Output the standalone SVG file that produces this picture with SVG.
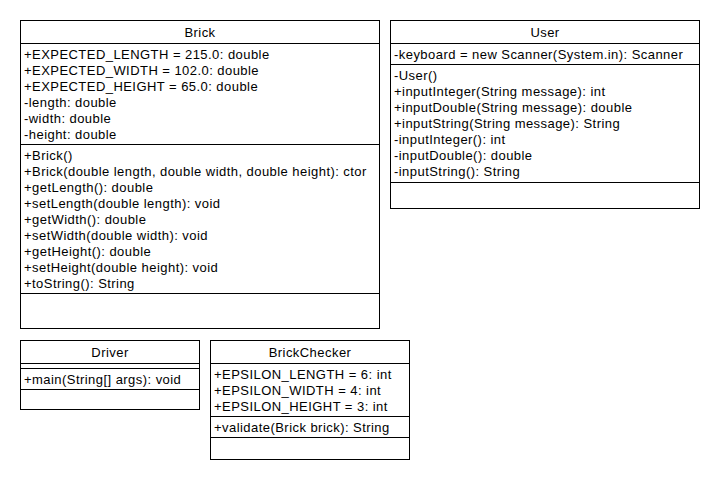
<svg xmlns="http://www.w3.org/2000/svg" width="720" height="480" viewBox="0 0 720 480">
<style>
  .box { fill: #ffffff; stroke: #000000; stroke-width: 1; }
  .sep { stroke: #000000; stroke-width: 1; fill: none; }
  text { font-family: "Liberation Sans", Arial, sans-serif; font-size: 13px; fill: #000000; letter-spacing: 0.45px; }
  .title { text-anchor: middle; }
</style>
<rect x="0" y="0" width="720" height="480" fill="#ffffff"/>
<g id="connectors"></g>

<g id="Brick">
  <rect class="box" x="20.5" y="20.5" width="359" height="308"/>
  <line class="sep" x1="20.5" y1="43.5" x2="379.5" y2="43.5"/>
  <line class="sep" x1="20.5" y1="144.5" x2="379.5" y2="144.5"/>
  <line class="sep" x1="20.5" y1="293.5" x2="379.5" y2="293.5"/>
  <text class="title" x="200" y="37">Brick</text>
  <text x="24" y="58.5">+EXPECTED_LENGTH = 215.0: double</text>
  <text x="24" y="74.5">+EXPECTED_WIDTH = 102.0: double</text>
  <text x="24" y="90.5">+EXPECTED_HEIGHT = 65.0: double</text>
  <text x="24" y="106.5">-length: double</text>
  <text x="24" y="122.5">-width: double</text>
  <text x="24" y="138.5">-height: double</text>
  <text x="24" y="160">+Brick()</text>
  <text x="24" y="176">+Brick(double length, double width, double height): ctor</text>
  <text x="24" y="192">+getLength(): double</text>
  <text x="24" y="208">+setLength(double length): void</text>
  <text x="24" y="224">+getWidth(): double</text>
  <text x="24" y="240">+setWidth(double width): void</text>
  <text x="24" y="256">+getHeight(): double</text>
  <text x="24" y="272">+setHeight(double height): void</text>
  <text x="24" y="288">+toString(): String</text>
</g>

<g id="User">
  <rect class="box" x="390.5" y="20.5" width="309" height="188"/>
  <line class="sep" x1="390.5" y1="43.5" x2="699.5" y2="43.5"/>
  <line class="sep" x1="390.5" y1="64.5" x2="699.5" y2="64.5"/>
  <line class="sep" x1="390.5" y1="182.5" x2="699.5" y2="182.5"/>
  <text class="title" x="545" y="37">User</text>
  <text x="394" y="58.5">-keyboard = new Scanner(System.in): Scanner</text>
  <text x="394" y="79.5">-User()</text>
  <text x="394" y="95.5">+inputInteger(String message): int</text>
  <text x="394" y="111.5">+inputDouble(String message): double</text>
  <text x="394" y="127.5">+inputString(String message): String</text>
  <text x="394" y="143.5">-inputInteger(): int</text>
  <text x="394" y="159.5">-inputDouble(): double</text>
  <text x="394" y="175.5">-inputString(): String</text>
</g>

<g id="Driver">
  <rect class="box" x="20.5" y="340.5" width="179" height="69"/>
  <line class="sep" x1="20.5" y1="363.5" x2="199.5" y2="363.5"/>
  <line class="sep" x1="20.5" y1="368.5" x2="199.5" y2="368.5"/>
  <line class="sep" x1="20.5" y1="389.5" x2="199.5" y2="389.5"/>
  <text class="title" x="110" y="357">Driver</text>
  <text x="24" y="383.5">+main(String[] args): void</text>
</g>

<g id="BrickChecker">
  <rect class="box" x="210.5" y="340.5" width="199" height="119"/>
  <line class="sep" x1="210.5" y1="363.5" x2="409.5" y2="363.5"/>
  <line class="sep" x1="210.5" y1="416.5" x2="409.5" y2="416.5"/>
  <line class="sep" x1="210.5" y1="437.5" x2="409.5" y2="437.5"/>
  <text class="title" x="310" y="357">BrickChecker</text>
  <text x="214" y="378.5">+EPSILON_LENGTH = 6: int</text>
  <text x="214" y="394.5">+EPSILON_WIDTH = 4: int</text>
  <text x="214" y="410.5">+EPSILON_HEIGHT = 3: int</text>
  <text x="214" y="431.5">+validate(Brick brick): String</text>
</g>
</svg>
